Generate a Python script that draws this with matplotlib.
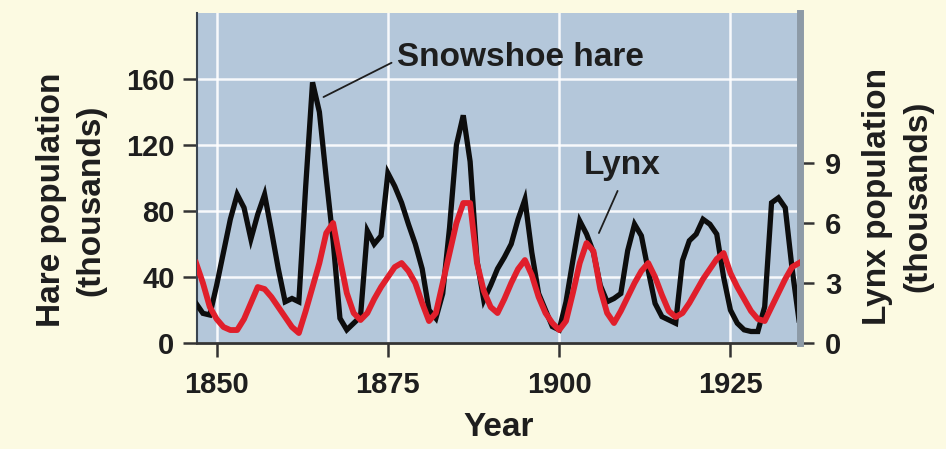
import matplotlib
matplotlib.use("Agg")
import matplotlib.pyplot as plt

# Lecturas del gráfico (miles de individuos)
years = list(range(1847, 1936))
hare = [24, 18, 17, 35, 55, 75, 90, 82, 63, 78,
        90, 68, 45, 25, 27, 25, 95, 158, 140, 100,
        62, 15, 8, 12, 16, 68, 60, 65, 103, 95,
        85, 72, 60, 45, 20, 15, 30, 70, 120, 138,
        110, 50, 26, 35, 45, 52, 60, 75, 87, 55,
        30, 20, 10, 8, 25, 50, 74, 66, 55, 35,
        25, 27, 30, 56, 72, 65, 44, 24, 16, 14,
        12, 50, 62, 66, 75, 72, 66, 40, 20, 12,
        8, 7, 7, 22, 85, 88, 82, 45, 14]
lynx = [4.0, 3.0, 1.8, 1.2, 0.8, 0.65, 0.65, 1.2, 2.0, 2.8,
        2.7, 2.3, 1.8, 1.3, 0.8, 0.5, 1.6, 2.8, 4.0, 5.5,
        6.0, 4.2, 2.5, 1.5, 1.15, 1.5, 2.2, 2.8, 3.3, 3.8,
        4.0, 3.6, 3.0, 2.0, 1.1, 1.5, 3.0, 4.5, 6.0, 7.0,
        7.0, 4.0, 2.6, 1.8, 1.5, 2.2, 3.0, 3.7, 4.15, 3.4,
        2.3, 1.5, 1.0, 0.65, 1.1, 2.5, 4.0, 5.0, 4.6, 2.7,
        1.5, 1.0, 1.6, 2.3, 3.0, 3.6, 4.0, 3.3, 2.4, 1.6,
        1.3, 1.5, 2.0, 2.6, 3.2, 3.7, 4.2, 4.5, 3.5, 2.8,
        2.2, 1.6, 1.2, 1.1, 1.8, 2.5, 3.2, 3.8, 4.0]

year_ticks = [1850, 1875, 1900, 1925]
hare_ticks = [0, 40, 80, 120, 160]
lynx_ticks = [0, 3, 6, 9]

bg_fig = "#fcfae2"
bg_ax = "#b4c7da"
dark = "#1e1e1e"
font = ["Liberation Sans", "DejaVu Sans"]

fig = plt.figure(figsize=(9.46, 4.49), dpi=100, facecolor=bg_fig)
ax = fig.add_axes([0.208, 0.236, 0.638, 0.735])
ax.set_facecolor(bg_ax)

ax.plot(years, hare, color="#0d0d0d", lw=3.8, solid_joinstyle="miter", zorder=3)
ax.set_xlim(1847.1, 1935.2)
ax.set_ylim(0, 200)
ax.set_xticks(year_ticks)
ax.set_yticks(hare_ticks)
ax.grid(True, color="white", lw=1.8, alpha=0.9)
ax.set_axisbelow(True)

for s in ["top", "right"]:
    ax.spines[s].set_visible(False)
ax.spines["left"].set_color("#3a4450")
ax.spines["left"].set_linewidth(1.5)
ax.spines["bottom"].set_color("#333333")
ax.spines["bottom"].set_linewidth(2.0)
ax.tick_params(axis="both", direction="out", length=10, width=1.8, color="#333333",
               labelsize=21, labelcolor=dark, pad=6)
ax.tick_params(axis="x", pad=10)
for lbl in ax.get_xticklabels() + ax.get_yticklabels():
    lbl.set_fontweight("bold")
    lbl.set_family(font)

ax.set_xlabel("Year", fontsize=24, fontweight="bold", family=font, color=dark)
ax.xaxis.set_label_coords(0.5, -0.21)
ax.set_ylabel("Hare population\n(thousands)", fontsize=24, fontweight="bold",
              family=font, color=dark, linespacing=1.35)
ax.yaxis.set_label_coords(-0.15, 0.433)

# Eje secundario para el lince
ax2 = ax.twinx()
ax2.plot(years, lynx, color="#e01f2b", lw=4.2, zorder=4)
ax2.set_ylim(0, 16.5)
ax2.set_yticks(lynx_ticks)
for s in ["top", "left", "bottom"]:
    ax2.spines[s].set_visible(False)
ax2.spines["right"].set_color("#8d9aa6")
ax2.spines["right"].set_linewidth(5)
ax2.tick_params(axis="y", direction="out", length=10, width=1.8, color="#333333",
                labelsize=21, labelcolor=dark, pad=8)
for lbl in ax2.get_yticklabels():
    lbl.set_fontweight("bold")
    lbl.set_family(font)
ax2.set_ylabel("Lynx population\n(thousands)", fontsize=24, fontweight="bold",
               family=font, color=dark, linespacing=1.35)
ax2.yaxis.set_label_coords(1.103, 0.445)

# Etiquetas de las series
ax2.annotate("Snowshoe hare", xy=(1865.6, 12.3), xytext=(1876.3, 14.3),
             fontsize=24, fontweight="bold", family=font, color=dark, va="center", ha="left",
             arrowprops=dict(arrowstyle="-", color=dark, lw=1.3, shrinkA=2, shrinkB=0,
                             relpos=(0, 0.4)))
ax2.annotate("Lynx", xy=(1905.8, 5.5), xytext=(1909.2, 8.9),
             fontsize=24, fontweight="bold", family=font, color=dark, va="center", ha="center",
             arrowprops=dict(arrowstyle="-", color=dark, lw=1.3, shrinkA=6, shrinkB=0,
                             relpos=(0.5, 0)))

fig.savefig("out.png", dpi=100, facecolor=bg_fig)
